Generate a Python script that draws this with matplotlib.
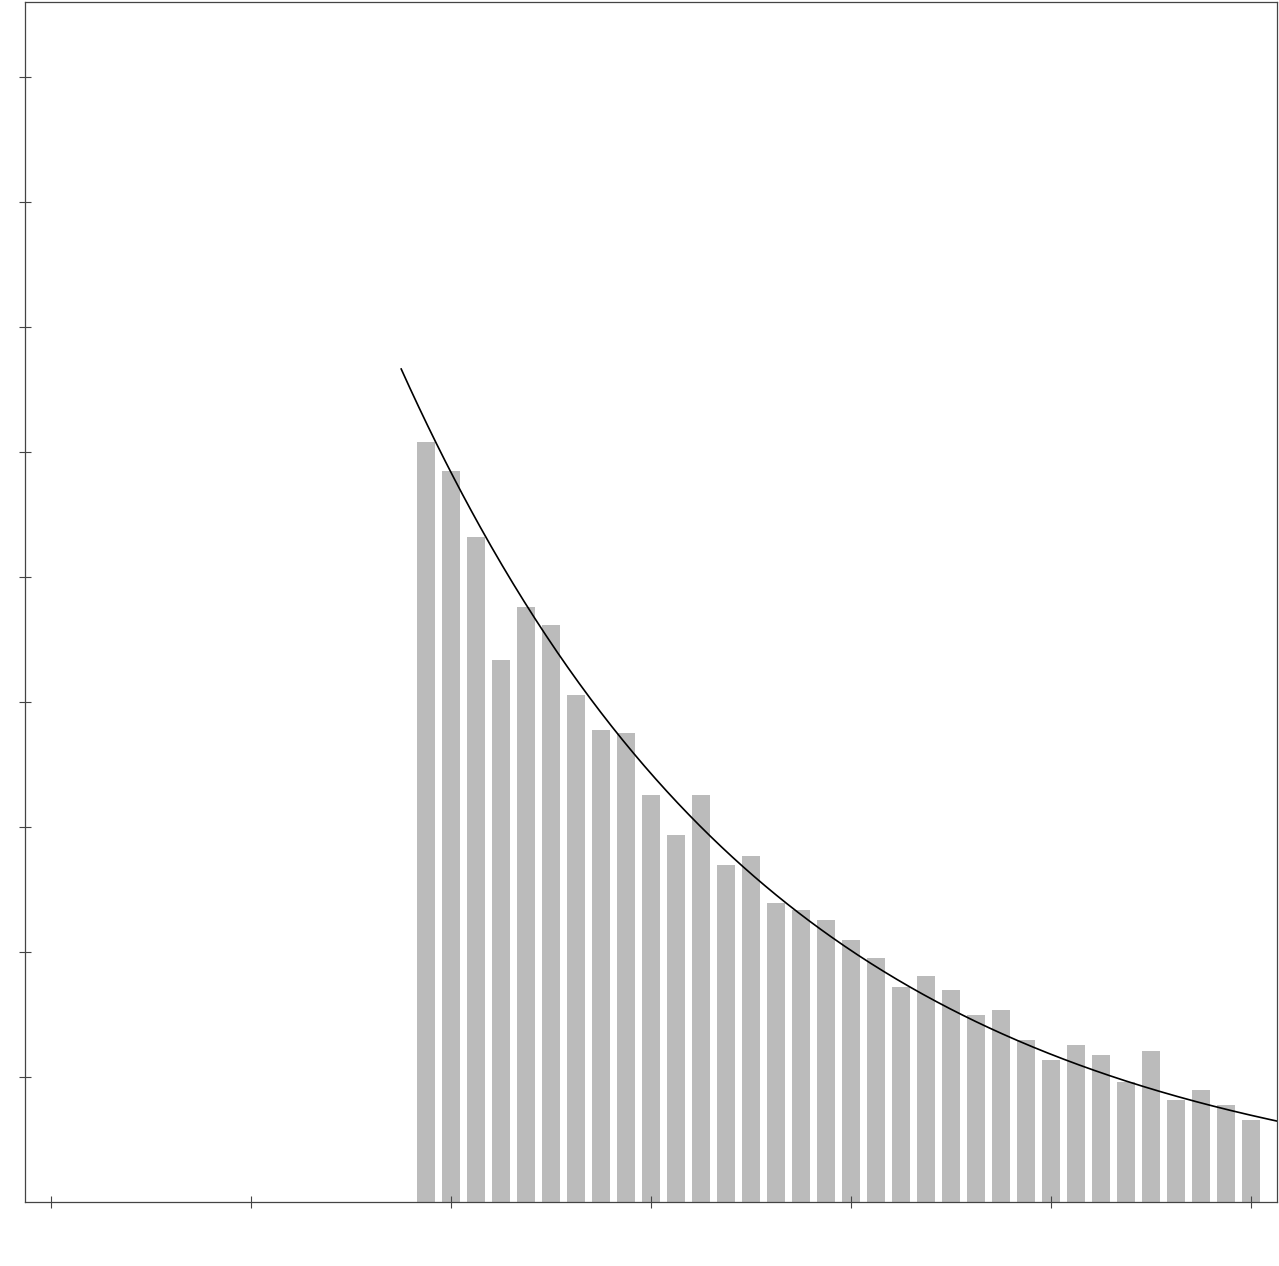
import numpy as np
from matplotlib import pyplot as plt

# bar positions and heights
bar_x = list(range(15, 49))
bar_h = [6.08, 5.85, 5.32, 4.34, 4.76, 4.62, 4.06, 3.78, 3.75, 3.26,
         2.94, 3.26, 2.70, 2.77, 2.39, 2.34, 2.26, 2.10, 1.95, 1.72,
         1.81, 1.70, 1.50, 1.54, 1.30, 1.14, 1.26, 1.18, 0.96, 1.21,
         0.82, 0.90, 0.78, 0.66]

# fitted exponential curve
curve_start = 14.0
curve_amp = 6.664
curve_rate = 0.0665

x_ticks = [0, 8, 16, 24, 32, 40, 48]
y_ticks = [1, 2, 3, 4, 5, 6, 7, 8, 9]


def main():
	fig = plt.figure(figsize=(12.79, 12.66), dpi=100)
	ax = fig.add_axes([25.5 / 1279, 1 - 1202 / 1266, 1251 / 1279, 1200 / 1266])

	ax.bar(bar_x, bar_h, width=0.72, color='#bbbbbb', zorder=1)

	xs = np.linspace(curve_start, 49.04, 400)
	ax.plot(xs, curve_amp * np.exp(-curve_rate * (xs - curve_start)),
		color='black', linewidth=1.2, zorder=2)

	ax.set_xlim(-1.04, 49.04)
	ax.set_ylim(0, 9.6)
	ax.set_xticks(x_ticks)
	ax.set_yticks(y_ticks)
	ax.set_xticklabels([])
	ax.set_yticklabels([])
	ax.tick_params(direction='inout', length=9, width=0.8, color='#444444')
	for s in ax.spines.values():
		s.set_color('#444444')
		s.set_linewidth(0.9)

	fig.savefig('out.png', dpi=100)


if __name__ == '__main__':
	main()
